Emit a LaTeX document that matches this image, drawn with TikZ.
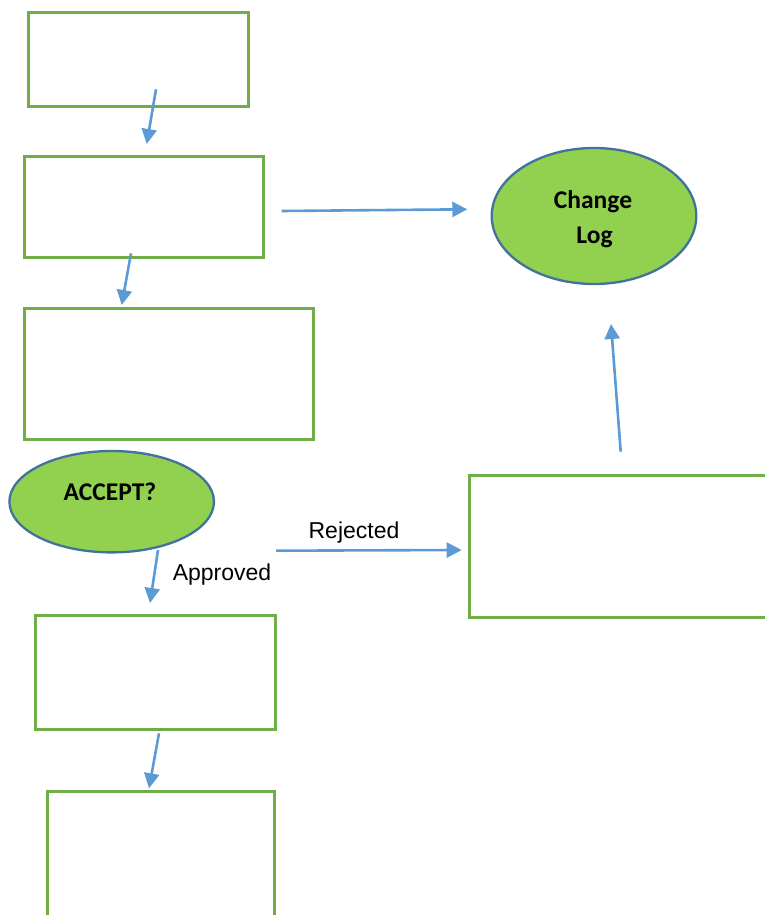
\documentclass[tikz,border=0pt]{standalone}
\usepackage{fontspec}
\setmainfont{Liberation Sans}
\newfontfamily\calibrilike{Carlito}
\usetikzlibrary{arrows.meta,shapes.geometric}

\definecolor{boxgreen}{HTML}{70AD47}
\definecolor{ovalfill}{HTML}{92D050}
\definecolor{ovalline}{HTML}{41719C}
\definecolor{arrowblue}{HTML}{5B9BD5}

\tikzset{
  stepbox/.style={draw=boxgreen, line width=3pt, fill=none, inner sep=0pt},
  oval/.style={ellipse, draw=ovalline, fill=ovalfill, line width=2.3pt, inner sep=0pt},
  ovaltext/.style={font=\calibrilike\bfseries\fontsize{25.5}{35}\selectfont, text=black, inner sep=0pt},
  flow/.style={draw=arrowblue, line width=2.6pt, -{Triangle[length=15pt,width=15pt]}},
  flowlabel/.style={font=\fontsize{23}{27}\selectfont, text=black, inner sep=0pt},
}

\begin{document}
\begin{tikzpicture}[x=1pt, y=-1pt]
  \useasboundingbox (0,0) rectangle (765,915);

  % process boxes (left column)
  \node[stepbox, minimum width=220pt,   minimum height=94pt]    (box1) at (138.5,60) {};
  \node[stepbox, minimum width=238.5pt, minimum height=100.5pt] (box2) at (143.75,206.75) {};
  \node[stepbox, minimum width=288.5pt, minimum height=130.5pt] (box3) at (168.75,373.75) {};
  \node[stepbox, minimum width=240.3pt, minimum height=114pt]   (box4) at (155.6,672) {};
  \node[stepbox, minimum width=227.5pt, minimum height=169pt]   (box5) at (160.75,875.5) {};

  % rejection box (right)
  \node[stepbox, minimum width=331pt, minimum height=141.5pt] (rbox) at (634.5,546.25) {};

  % decision and log ovals
  \node[oval, minimum width=204.6pt, minimum height=136pt] (log) at (594,216) {};
  \node[ovaltext, anchor=base] (logA) at (593,208) {Change};
  \node[ovaltext, anchor=base] (logB) at (594.5,243) {Log};

  \node[oval, minimum width=204.6pt, minimum height=101.4pt] (accept) at (111.7,501.7) {};
  \node[ovaltext, anchor=base] (accepttext) at (110,500) {ACCEPT?};

  % arrow end points
  \coordinate (a1s) at (156,89.3);   \coordinate (a1e) at (146.7,144);
  \coordinate (a2s) at (131,253.3);  \coordinate (a2e) at (121.7,305);
  \coordinate (a3s) at (281.7,211);  \coordinate (a3e) at (467.3,209.3);
  \coordinate (a4s) at (620.7,451.7);\coordinate (a4e) at (611,324);
  \coordinate (a5s) at (276,550.7);  \coordinate (a5e) at (461.7,550);
  \coordinate (a6s) at (158,550);    \coordinate (a6e) at (150,603);
  \coordinate (a7s) at (159,733.3);  \coordinate (a7e) at (149,788.3);

  \draw[flow] (a1s) -- (a1e);
  \draw[flow] (a2s) -- (a2e);
  \draw[flow] (a3s) -- (a3e);
  \draw[flow] (a4s) -- (a4e);
  \draw[flow] (a5s) -- (a5e);
  \draw[flow] (a6s) -- (a6e);
  \draw[flow] (a7s) -- (a7e);

  % branch labels
  \node[flowlabel, anchor=base] (rej) at (354,538) {Rejected};
  \node[flowlabel, anchor=base] (app) at (222,580) {Approved};
\end{tikzpicture}
\end{document}
